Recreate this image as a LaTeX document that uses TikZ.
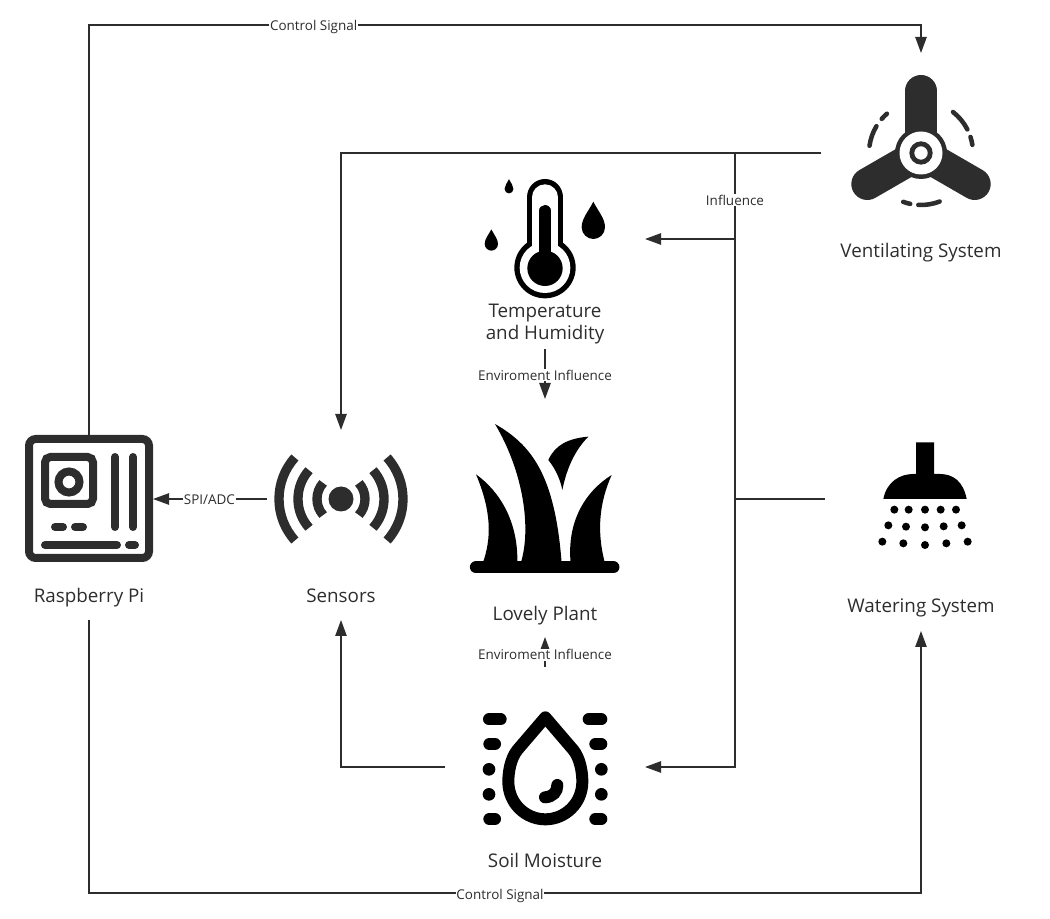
\documentclass[tikz,border=0pt]{standalone}
\usepackage{fontspec}
\setmainfont{Open Sans}
\usetikzlibrary{arrows.meta}
\definecolor{inkgray}{HTML}{2D2D2D}
\tikzset{
  iconbox/.style={inner sep=0pt,outer sep=0pt},
  caption/.style={inner sep=0pt,outer sep=0pt,text=inkgray,font=\fontsize{14.1pt}{16.5pt}\selectfont,align=center},
  link/.style={draw=inkgray,line width=1.15pt,-{Triangle[length=12pt,width=8.5pt]}},
  plainlink/.style={draw=inkgray,line width=1.15pt},
  flowlabel/.style={fill=white,inner sep=0.6pt,text=inkgray,yshift=-0.8pt,font=\fontsize{10.1pt}{11pt}\selectfont},
  traced/.style={x=0.25pt,y=-0.25pt}
}
\begin{document}
\begin{tikzpicture}[x=0.75pt,y=0.75pt]
  \useasboundingbox (0,0) rectangle (1050,-919);

  % boxes the connectors attach to
  \node[iconbox,minimum width=96pt,minimum height=96pt] (rpi) at (89,-499) {};
  \node[iconbox,minimum width=111pt,minimum height=103.5pt] (sensors) at (341,-499) {};
  \node[iconbox,minimum width=150pt,minimum height=90pt] (temp) at (545,-239) {};
  \node[iconbox,minimum width=150pt,minimum height=150pt] (plant) at (545,-499) {};
  \node[iconbox,minimum width=150pt,minimum height=150pt] (soil) at (545,-767) {};
  \node[iconbox,minimum width=150pt,minimum height=150pt] (vent) at (921,-153) {};
  \node[iconbox,minimum width=144pt,minimum height=96pt] (water) at (921,-499) {};

  % captions
  \node[caption,minimum height=33pt] (rpilabel) at (89,-598) {Raspberry Pi};
  \node[caption,minimum height=36pt] (sensorslabel) at (341,-596) {Sensors};
  \node[caption,minimum height=37.5pt] (templabel) at (545,-324) {Temperature\\and Humidity};
  \node[caption,minimum height=31.5pt] (plantlabel) at (545,-616) {Lovely Plant};
  \node[caption] (soillabel) at (545,-860) {Soil Moisture};
  \node[caption] (ventlabel) at (921,-253) {Ventilating System};
  \node[caption,minimum height=34.5pt] (waterlabel) at (921,-608) {Watering System};

  \coordinate (topleft) at (89,-25);
  \coordinate (topright) at (921,-25);
  \coordinate (botleft) at (89,-893);
  \coordinate (botright) at (921,-893);
  \coordinate (trunktop) at (735,-153);
  \coordinate (trunkbot) at (735,-767);
  \coordinate (tempjoin) at (735,-239);
  \coordinate (waterjoin) at (735,-499);

  % connectors
  \draw[link] (rpi.north) -- (topleft) -- node[flowlabel,pos=0.27,yshift=-0.8pt] {Control Signal} (topright) -- (vent.north);
  \draw[link] (rpilabel.south) -- (botleft) -- node[flowlabel,pos=0.494,yshift=-1.5pt] {Control Signal} (botright) -- (waterlabel.south);
  \draw[link] (sensors.west) -- node[flowlabel,pos=0.505] {SPI/ADC} (rpi.east);
  \draw[link] (vent.west) -| (sensors.north);
  \draw[link] (soil.west) -| (sensorslabel.south);
  \draw[link] (trunktop) -- node[flowlabel,pos=0.075] {Influence} (trunkbot) -- (soil.east);
  \draw[link] (tempjoin) -- (temp.east);
  \draw[plainlink] (water.west) -- (waterjoin);
  \draw[link] (templabel.south) -- node[flowlabel] {Enviroment Influence} (plant.north);
  \draw[link] (soil.north) -- node[flowlabel,pos=0.44] {Enviroment Influence} (plantlabel.south);

  % raspberry pi
  \begin{scope}[inkgray,line width=6pt]
    \draw[rounded corners=5pt] (29,-439) rectangle (149,-558);
    \draw[rounded corners=4pt] (45,-457) rectangle (93,-504);
    \draw (69,-482) circle[radius=10.5];
    \draw[line cap=round] (115,-457) -- (115,-527);
    \draw[line cap=round] (133,-457) -- (133,-527);
    \draw[line cap=round] (55,-527) -- (63,-527);
    \draw[line cap=round] (75,-527) -- (83,-527);
    \draw[line cap=round] (45,-545) -- (117,-545);
    \draw[line cap=round] (129,-545) -- (135,-545);
  \end{scope}

  % sensors
  \begin{scope}[shift={(341,-499)},inkgray,line width=7pt]
    \fill (0,0) circle[radius=12.5];
    \foreach \r in {24,43,62} {
      \draw (42:\r) arc[start angle=42,end angle=-42,radius=\r];
      \draw (138:\r) arc[start angle=138,end angle=222,radius=\r];
    }
  \end{scope}

  % fan
  \begin{scope}[shift={(921,-153)},inkgray]
    \foreach \a in {90,210,330}
      \draw[line width=24pt,line cap=round] (0,0) -- (\a:62);
    \fill (0,0) circle[radius=26];
    \fill[white] (0,0) circle[radius=21.5];
    \draw[line width=3.6pt] (0,0) circle[radius=9.2];
    \draw[line width=3.4pt,line cap=round]
      (52:52) arc[start angle=52,end angle=27,radius=52]
      (18:52) arc[start angle=18,end angle=9,radius=52]
      (131:52) arc[start angle=131,end angle=139,radius=52]
      (149:52) arc[start angle=149,end angle=172,radius=52]
      (-110:52) arc[start angle=-110,end angle=-102,radius=52]
      (-93:52) arc[start angle=-93,end angle=-69,radius=52];
  \end{scope}

  % thermometer and drops
  \begin{scope}[shift={(460,-170)},traced]
    \draw[line width=27.5pt,line cap=round] (255,82) -- (255,290);
    \fill (255,293) circle[radius=92];
    \draw[white,line width=19.5pt,line cap=round] (255,82) -- (255,290);
    \fill[white] (255,293) circle[radius=76];
    \draw[line width=8.5pt,line cap=round] (255,122) -- (255,290);
    \fill (255,295) circle[radius=53];
    \foreach \x/\y/\s in {400/151/1,94/210/0.57,147/49/0.38}
      \fill[shift={(\x,\y)},scale=\s] (0,-56) .. controls (-15,-26) and (-35,-6) .. (-35,21)
        .. controls (-35,41) and (-18,56) .. (0,56) .. controls (18,56) and (35,41) .. (35,21)
        .. controls (35,-6) and (15,-26) .. (0,-56) -- cycle;
  \end{scope}

  % plant
  \begin{scope}[shift={(460,-415)},traced]
    \draw[line width=9.2pt,line cap=round] (48,457) -- (460,457);
    \fill (48,178) .. controls (120,230) and (175,320) .. (172,445) -- (68,445)
      .. controls (95,370) and (95,290) .. (48,178) -- cycle;
    \fill (105,27) .. controls (215,90) and (285,180) .. (305,445) -- (182,445)
      .. controls (215,340) and (190,170) .. (105,27) -- cycle;
    \fill (385,65) .. controls (325,70) and (285,90) .. (265,135)
      .. controls (285,160) and (300,190) .. (307,225)
      .. controls (320,160) and (345,105) .. (385,65) -- cycle;
    \fill (455,180) .. controls (375,230) and (320,320) .. (332,445) -- (435,445)
      .. controls (415,370) and (410,280) .. (455,180) -- cycle;
  \end{scope}

  % shower
  \begin{scope}[shift={(870,-435)},traced]
    \fill (138,22) -- (192,22) -- (192,117) -- (210,117) .. controls (250,117) and (280,140) .. (290,192)
      -- (40,192) .. controls (50,140) and (90,117) .. (130,117) -- (138,117) -- cycle;
    \foreach \x/\y in {73/224,116/224,165/224,212/224,258/224,
      55/271,108/275,165/277,221/274,275/271,
      37/320,100/325,165/330,229/325,293/320}
      \fill (\x,\y) circle[radius=12];
  \end{scope}

  % soil moisture
  \begin{scope}[shift={(470,-700)},traced]
    \draw[line width=9pt,line join=round] (226,52) -- (310,150) .. controls (330,175) and (337,215) .. (337,245)
      .. controls (337,310) and (285,358) .. (226,358) .. controls (167,358) and (115,310) .. (115,245)
      .. controls (115,215) and (122,175) .. (142,150) -- cycle;
    \draw[line width=9pt,line cap=round] (225,292) .. controls (250,290) and (262,275) .. (262,255);
    \foreach \xa/\xb/\y in {57/92/58,58/75/132,58/75/357,356/394/58,376/394/132,376/394/357}
      \draw[line width=9pt,line cap=round] (\xa,\y) -- (\xb,\y);
    \foreach \x in {57,394}
      \foreach \y in {208,283}
        \fill (\x,\y) circle[radius=19];
  \end{scope}
\end{tikzpicture}
\end{document}
